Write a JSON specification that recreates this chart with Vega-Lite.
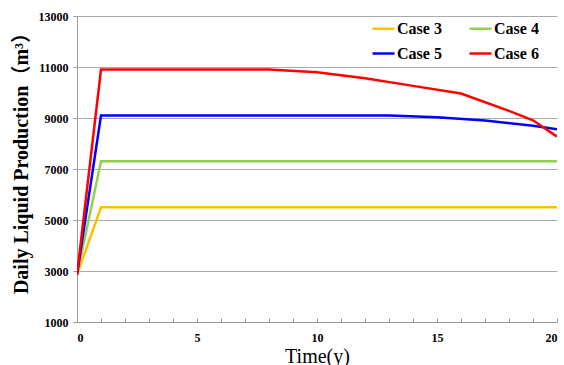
{
  "$schema": "https://vega.github.io/schema/vega-lite/v6.json",
  "autosize": {"type": "none"},
  "width": 480,
  "height": 306,
  "padding": {"left": 77, "top": 16, "right": 7, "bottom": 43},
  "background": "white",
  "config": {
    "view": {"stroke": null},
    "font": "Liberation Serif",
    "axis": {
      "labelFont": "Liberation Serif",
      "labelFontWeight": "bold",
      "labelFontSize": 12,
      "labelColor": "black",
      "titleColor": "black",
      "domainColor": "#999999",
      "tickColor": "#999999",
      "gridColor": "#aaaaaa"
    }
  },
  "data": {
    "values": [
      {"t": 0, "v": 2850, "case": "Case 3"},
      {"t": 1, "v": 5500, "case": "Case 3"},
      {"t": 20, "v": 5500, "case": "Case 3"},
      {"t": 0, "v": 2850, "case": "Case 4"},
      {"t": 1, "v": 7300, "case": "Case 4"},
      {"t": 20, "v": 7300, "case": "Case 4"},
      {"t": 0, "v": 2850, "case": "Case 5"},
      {"t": 1, "v": 9100, "case": "Case 5"},
      {"t": 13, "v": 9100, "case": "Case 5"},
      {"t": 15, "v": 9030, "case": "Case 5"},
      {"t": 17, "v": 8900, "case": "Case 5"},
      {"t": 19, "v": 8700, "case": "Case 5"},
      {"t": 20, "v": 8560, "case": "Case 5"},
      {"t": 0, "v": 2850, "case": "Case 6"},
      {"t": 1, "v": 10900, "case": "Case 6"},
      {"t": 8, "v": 10900, "case": "Case 6"},
      {"t": 10, "v": 10790, "case": "Case 6"},
      {"t": 12, "v": 10560, "case": "Case 6"},
      {"t": 14, "v": 10260, "case": "Case 6"},
      {"t": 16, "v": 9960, "case": "Case 6"},
      {"t": 18, "v": 9280, "case": "Case 6"},
      {"t": 19, "v": 8910, "case": "Case 6"},
      {"t": 20, "v": 8270, "case": "Case 6"}
    ]
  },
  "mark": {"type": "line", "strokeWidth": 2.5, "clip": true},
  "encoding": {
    "x": {
      "field": "t",
      "type": "quantitative",
      "scale": {"domain": [0, 20], "nice": false},
      "axis": {
        "values": [0,1,2,3,4,5,6,7,8,9,10,11,12,13,14,15,16,17,18,19,20],
        "labelExpr": "datum.value % 5 === 0 ? datum.label : ''",
        "grid": false,
        "tickSize": -4,
        "labelPadding": 14,
        "title": "Time(y)",
        "titleFont": "Liberation Serif",
        "titleFontWeight": "normal",
        "titleFontSize": 20,
        "titlePadding": 3
      }
    },
    "y": {
      "field": "v",
      "type": "quantitative",
      "scale": {"domain": [1000, 13000], "nice": false},
      "axis": {
        "values": [1000, 3000, 5000, 7000, 9000, 11000, 13000],
        "format": "d",
        "grid": true,
        "tickSize": 4,
        "labelPadding": 5,
        "title": "Daily Liquid Production（m³）",
        "titleFont": "Liberation Serif, Noto Sans CJK SC",
        "titleFontWeight": "bold",
        "titleFontSize": 20,
        "titlePadding": 7,
        "titleY": 142
      }
    },
    "color": {
      "field": "case",
      "type": "nominal",
      "scale": {
        "domain": ["Case 3", "Case 4", "Case 5", "Case 6"],
        "range": ["#FFC000", "#92D050", "#0000FF", "#FF0000"]
      },
      "legend": {
        "title": null,
        "orient": "none",
        "legendX": 294,
        "legendY": 0,
        "direction": "horizontal",
        "columns": 2,
        "symbolType": "stroke",
        "symbolSize": 484,
        "symbolStrokeWidth": 2.5,
        "labelFont": "Liberation Serif",
        "labelFontWeight": "bold",
        "labelFontSize": 16,
        "labelColor": "black",
        "labelOffset": 1,
        "columnPadding": 22,
        "rowPadding": 4
      }
    }
  }
}
